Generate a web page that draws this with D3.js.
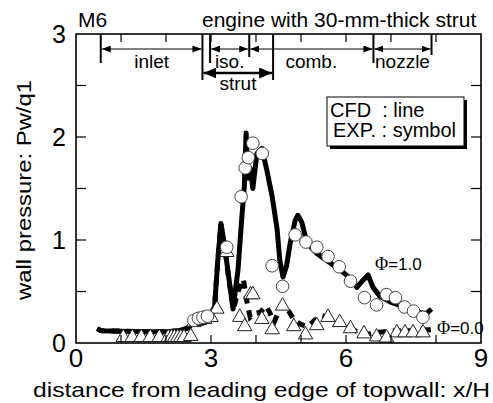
<!DOCTYPE html>
<html>
<head>
<meta charset="utf-8">
<script src="https://cdn.jsdelivr.net/npm/d3@7"></script>
<style>
  html, body { margin: 0; padding: 0; background: #fff; }
  svg { display: block; font-family: "Liberation Sans", Arial, sans-serif; }
</style>
</head>
<body>
<svg id="chart"></svg>
<script>
// ---- data ----
const xTicks = [0, 3, 6, 9];
const yTicks = [0, 1, 2, 3];

// CFD, phi = 1.0 (solid)
const cfdPhi10 = [
  [0.47,0.14],[0.55,0.12],[1.0,0.115],[1.5,0.11],[2.0,0.11],[2.3,0.12],[2.5,0.15],
  [2.7,0.24],[2.85,0.29],[3.0,0.28],[3.08,0.35],[3.15,0.8],[3.22,1.16],[3.3,0.95],
  [3.4,0.62],[3.49,0.33],[3.6,0.71],[3.68,1.19],[3.74,1.52],[3.78,2.04],[3.82,1.6],
  [3.87,1.7],[3.93,1.5],[4.02,1.84],[4.13,1.89],[4.24,1.68],[4.36,1.42],[4.47,1.1],
  [4.53,0.8],[4.6,0.64],[4.68,0.75],[4.76,0.97],[4.87,1.19],[4.93,1.24],[5.02,1.17],
  [5.13,0.97],[5.35,0.87],[5.87,0.71],[6.09,0.63],[6.24,0.54],[6.38,0.61],[6.49,0.66],
  [6.6,0.54],[6.76,0.45],[6.98,0.4],[7.35,0.34],[7.69,0.29],[7.8,0.29],[7.9,0.33]
];

// CFD, phi = 0.0 (dashed)
const cfdPhi00 = [
  [0.47,0.14],[0.55,0.12],[1.0,0.115],[1.5,0.11],[2.0,0.11],[2.3,0.12],[2.5,0.15],
  [2.7,0.24],[2.85,0.29],[3.0,0.28],[3.08,0.35],[3.15,0.8],[3.22,1.15],[3.3,0.95],
  [3.4,0.6],[3.5,0.33],[3.6,0.5],[3.72,0.62],[3.8,0.4],[3.87,0.25],[3.95,0.28],
  [4.1,0.3],[4.22,0.36],[4.3,0.3],[4.4,0.2],[4.5,0.3],[4.6,0.38],[4.7,0.33],
  [4.85,0.22],[5.0,0.18],[5.15,0.16],[5.3,0.22],[5.45,0.27],[5.6,0.25],[5.8,0.21],
  [6.0,0.16],[6.2,0.12],[6.45,0.08],[6.6,0.1],[6.85,0.11],[7.1,0.12],[7.5,0.12],[7.9,0.13]
];

// EXP, phi = 1.0 (circles)
const expPhi10 = [
  [2.62,0.22],[2.72,0.24],[2.82,0.25],[2.92,0.26],[3.35,0.93],[3.67,1.42],[3.76,1.70],
  [3.83,1.80],[3.93,1.94],[4.14,1.84],[4.36,0.75],[4.59,0.55],[4.87,1.05],[5.11,0.98],
  [5.35,0.93],[5.6,0.84],[5.85,0.74],[6.1,0.60],[6.41,0.44],[6.68,0.37],[6.9,0.47],
  [7.1,0.44],[7.3,0.35],[7.5,0.31],[7.71,0.25]
];

// EXP, phi = 0.0 (triangles)
const expPhi00 = [
  [1.05,0.055],[1.25,0.055],[1.45,0.055],[1.65,0.055],[1.85,0.055],[2.05,0.055],[2.12,0.055],
  [2.19,0.055],[2.26,0.055],[2.33,0.055],[2.4,0.055],[2.55,0.065],[2.62,0.2],[2.68,0.21],
  [2.74,0.22],[2.8,0.23],[2.86,0.23],[3.0,0.25],[3.13,0.33],[3.35,0.88],[3.64,0.25],
  [3.75,0.16],[3.88,0.47],[3.93,0.47],[4.13,0.23],[4.36,0.13],[4.59,0.36],[4.84,0.16],
  [5.1,0.08],[5.35,0.17],[5.6,0.25],[5.86,0.2],[6.1,0.14],[6.4,0.09],[6.68,0.06],
  [6.9,0.05],[7.13,0.1],[7.31,0.1],[7.49,0.1],[7.71,0.1]
];

// engine sections along the top (x/H)
const sectionBounds = [0.55, 2.81, 2.98, 3.85, 4.38, 6.61, 7.9];
const sections = [
  { label: "inlet",  from: 0.55, to: 2.81 },
  { label: "iso.",   from: 2.98, to: 3.85 },
  { label: "comb.",  from: 3.85, to: 6.61 },
  { label: "nozzle", from: 6.61, to: 7.9 }
];
const strut = { label: "strut", from: 2.81, to: 4.38 };

// ---- layout ----
const width = 493, height = 403;
const margin = { top: 34, right: 12, bottom: 60, left: 76 };

const svg = d3.select("#chart")
  .attr("width", width)
  .attr("height", height)
  .attr("viewBox", `0 0 ${width} ${height}`);

const x = d3.scaleLinear().domain([0, 9]).range([margin.left, width - margin.right]);
const y = d3.scaleLinear().domain([0, 3]).range([height - margin.bottom, margin.top]);

const defs = svg.append("defs");
function arrowMarker(id, w, h) {
  defs.append("marker")
    .attr("id", id)
    .attr("viewBox", `0 0 ${w} ${h}`)
    .attr("refX", w).attr("refY", h / 2)
    .attr("markerWidth", w).attr("markerHeight", h)
    .attr("markerUnits", "userSpaceOnUse")
    .attr("orient", "auto-start-reverse")
    .append("path")
    .attr("d", `M0,0L${w},${h / 2}L0,${h}Z`)
    .attr("fill", "#000");
}
arrowMarker("arr", 9, 7);
arrowMarker("arrBig", 13, 11);

// ---- CFD lines ----
const line = d3.line().x(d => x(d[0])).y(d => y(d[1])).curve(d3.curveLinear);

svg.append("path")
  .attr("d", line(cfdPhi00))
  .attr("fill", "none")
  .attr("stroke", "#000")
  .attr("stroke-width", 5)
  .attr("stroke-dasharray", "8,7");

svg.append("path")
  .attr("d", line(cfdPhi10))
  .attr("fill", "none")
  .attr("stroke", "#000")
  .attr("stroke-width", 5)
  .attr("stroke-linejoin", "round");

// ---- EXP symbols ----
const tri = d3.symbol().type(d3.symbolTriangle).size(90);

svg.append("g").selectAll("path")
  .data(expPhi00)
  .join("path")
  .attr("d", tri)
  .attr("transform", d => `translate(${x(d[0])},${y(d[1])})`)
  .attr("fill", "#fff")
  .attr("stroke", "#222")
  .attr("stroke-width", 1);

svg.append("g").selectAll("circle")
  .data(expPhi10)
  .join("circle")
  .attr("cx", d => x(d[0]))
  .attr("cy", d => y(d[1]))
  .attr("r", 6.3)
  .attr("fill", "#fff")
  .attr("stroke", "#444")
  .attr("stroke-width", 1);

// ---- frame + ticks ----
svg.append("rect")
  .attr("x", x(0)).attr("y", y(3))
  .attr("width", x(9) - x(0)).attr("height", y(0) - y(3))
  .attr("fill", "none").attr("stroke", "#000").attr("stroke-width", 1.6);

const ax = svg.append("g").attr("stroke", "#000").attr("stroke-width", 1.2);
d3.range(1, 9).forEach(v => {
  ax.append("line").attr("x1", x(v)).attr("x2", x(v)).attr("y1", y(0)).attr("y2", y(0) - 8);
  ax.append("line").attr("x1", x(v)).attr("x2", x(v)).attr("y1", y(3)).attr("y2", y(3) + 8);
});
d3.range(0.5, 3, 0.5).forEach(v => {
  ax.append("line").attr("x1", x(0)).attr("x2", x(0) + 10).attr("y1", y(v)).attr("y2", y(v));
  ax.append("line").attr("x1", x(9)).attr("x2", x(9) - 10).attr("y1", y(v)).attr("y2", y(v));
});

svg.append("g").selectAll("text")
  .data(xTicks)
  .join("text")
  .attr("x", d => x(d))
  .attr("y", 367)
  .attr("text-anchor", "middle")
  .attr("font-size", 26)
  .text(d => d);

svg.append("g").selectAll("text")
  .data(yTicks)
  .join("text")
  .attr("x", 66)
  .attr("y", d => y(d) + 9)
  .attr("text-anchor", "end")
  .attr("font-size", 25)
  .text(d => d);

svg.append("text")
  .attr("x", 33).attr("y", 397)
  .attr("font-size", 21)
  .attr("textLength", 457)
  .attr("lengthAdjust", "spacingAndGlyphs")
  .text("distance from leading edge of topwall: x/H");

svg.append("text")
  .attr("transform", "translate(31,300) rotate(-90)")
  .attr("font-size", 21)
  .attr("textLength", 220)
  .attr("lengthAdjust", "spacingAndGlyphs")
  .text("wall pressure: Pw/q1");

// ---- section annotation ----
svg.append("text").attr("x", 78).attr("y", 27).attr("font-size", 21).text("M6");
svg.append("text").attr("x", 202).attr("y", 27).attr("font-size", 21)
  .text("engine with 30-mm-thick strut");

const barLen = { 0.55: 63, 2.81: 80, 2.98: 63, 3.85: 57, 4.38: 80, 6.61: 63, 7.9: 55 };
svg.append("g").selectAll("line")
  .data(sectionBounds)
  .join("line")
  .attr("x1", d => x(d)).attr("x2", d => x(d))
  .attr("y1", y(3)).attr("y2", d => barLen[d])
  .attr("stroke", "#000").attr("stroke-width", 2);

const sec = svg.append("g");
sections.forEach(s => {
  sec.append("line")
    .attr("x1", x(s.from) + 1).attr("x2", x(s.to) - 1)
    .attr("y1", 49).attr("y2", 49)
    .attr("stroke", "#000").attr("stroke-width", 1)
    .attr("marker-start", "url(#arr)")
    .attr("marker-end", "url(#arr)");
  sec.append("text")
    .attr("x", (x(s.from) + x(s.to)) / 2)
    .attr("y", 68)
    .attr("text-anchor", "middle")
    .attr("font-size", 19)
    .text(s.label);
});

sec.append("line")
  .attr("x1", x(strut.from) + 1).attr("x2", x(strut.to) - 1)
  .attr("y1", 73).attr("y2", 73)
  .attr("stroke", "#000").attr("stroke-width", 2.5)
  .attr("marker-start", "url(#arrBig)")
  .attr("marker-end", "url(#arrBig)");
sec.append("text")
  .attr("x", 238).attr("y", 90)
  .attr("text-anchor", "middle")
  .attr("font-size", 19)
  .text(strut.label);

// ---- legend box ----
const lg = svg.append("g").attr("transform", "translate(327,97)");
lg.append("rect").attr("x", 3).attr("y", 3).attr("width", 137).attr("height", 49).attr("fill", "#000");
lg.append("rect").attr("width", 137).attr("height", 49)
  .attr("fill", "#fff").attr("stroke", "#000").attr("stroke-width", 1);
lg.append("text").attr("x", 3).attr("y", 20).attr("font-size", 20).attr("xml:space", "preserve").text("CFD  : line");
lg.append("text").attr("x", 6).attr("y", 40).attr("font-size", 20).attr("xml:space", "preserve").text("EXP. : symbol");

// ---- phi labels ----
function phiLabel(px, py, val) {
  const t = svg.append("text").attr("x", px).attr("y", py).attr("font-size", 17);
  t.append("tspan").attr("font-family", "'Liberation Serif', 'Times New Roman', serif").attr("font-size", 18).text("Φ");
  t.append("tspan").text("=" + val);
}
phiLabel(375, 270, "1.0");
phiLabel(437, 334, "0.0");
</script>
</body>
</html>
